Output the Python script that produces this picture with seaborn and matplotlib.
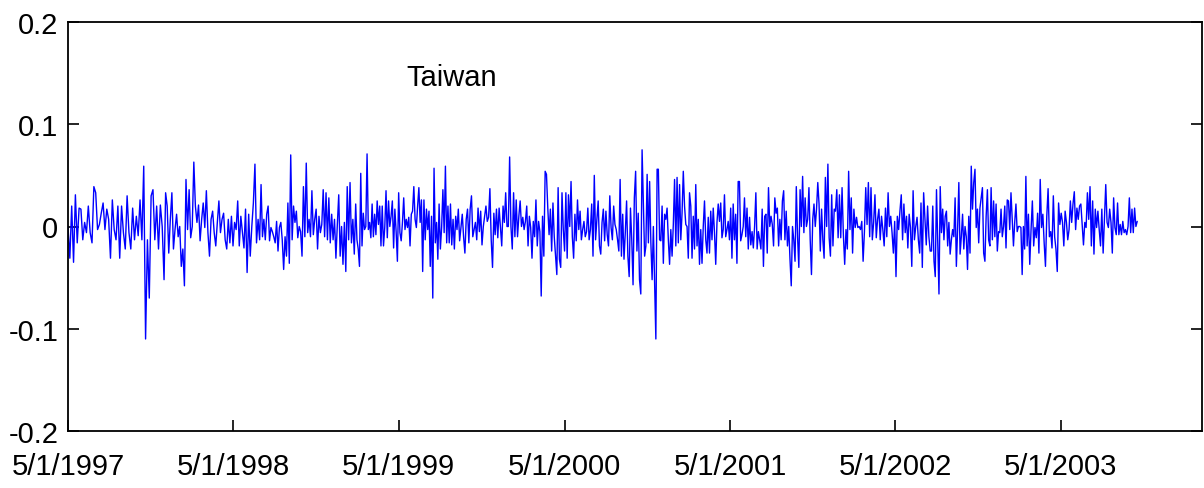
import numpy as np
import pandas as pd
import matplotlib
matplotlib.use("Agg")
import matplotlib.pyplot as plt
import seaborn as sns

# ---------------- data (daily returns, in units of 0.001) ----------------
segment_bounds = ["1997-05-01", "1997-11-29", "1998-06-28", "1999-01-26", "1999-08-26",
                  "2000-03-25", "2000-10-22", "2001-05-22", "2001-12-20", "2002-07-20",
                  "2003-02-16", "2003-10-17"]

seg01 = [0, -31, 20, -35, 31, -16, 18, 17, -13, 4, -6, 20, -6, -16, 39, 33, -3, 2, 13, 23, -3, 17, 7,
         -31, 26, -3, -13, 20, -31, 20, -6, -22, 30, -6, -22, 18, -13, 10, -9, 26, -13, 59, -110, -13,
         -70, 30, 36, -13, 20, -22, 21, 0]
seg02 = [-52, 33, 20, -26, 7, 33, -22, -3, 12, -10, 0, -39, -22, -58, 46, -3, 36, -11, 0, 63, 20, 4, 21,
         -14, 7, 23, -1, 35, -6, -29, 7, 15, -6, -19, 4, 25, -6, 7, 13, -13, -22, 7, -16, 10, -19, 4, -3,
         25, -19, 10, -6, -21, 17, -45, 12, -29, 0, 23, 61, -16, 7]
seg03 = [-13, 41, -10, 7, -13, 12, 20, -14, -1, -5, -10, -16, 5, -24, -1, 4, -13, -42, -10, -29, 23, -36,
         70, -13, 20, 4, 15, -11, 0, -5, -29, 39, -10, 62, -6, 7, -10, 35, -8, 7, 17, -22, 10, -6, 2, 36,
         -10, 33, -13, 28, -16, 12, -13, 7, -31, 2, 31, -29, 0, -37, 4, -44, 39, -13, 43, -16, 7, -27]
seg04 = [22, -13, -22, -39, 52, -19, 13, -3, 0, 71, -3, 4, -11, 22, -10, 12, -8, 25, 2, 20, -19, 20, -19,
         -1, 35, -11, 25, 0, 10, 25, -21, 17, -5, -34, 33, -6, -14, 4, 28, -3, 7, -1, 9, -19, 12, 15, 39,
         7, -1, 20, 38, 4, 26, -44, 26, -13, 17, -3, 15, -39, 10, -70, 57, -16, 4, -32, 22, -22, -1, 36,
         -6, 59, -16, 20, -16, 22]
seg05 = [-18, 7, -22, 10, -3, 17, -14, -1, 12, -10, -26, 7, 17, -16, 17, 30, -10, -3, 4, -13, 18, -5, 15,
         -18, 0, 10, 20, 5, 9, 37, -13, -40, 13, -8, 17, -11, 18, 0, -19, 20, 4, 33, 0, 0, 68, 0, -22, 33,
         -10, 26, -10, 10, 25, 0, 9, -3, 5, 20, -19, 10, -1, -31, 5, -10, 26, -19, 5, -5, -68, 10, -29,
         54, 51]
seg06 = [18, -8, 17, -24, 23, -10, -29, -47, 38, -32, -40, 33, -3, -24, 33, -31, 31, 0, 44, -10, -31, 12,
         -14, 26, -3, 15, -13, -3, 5, -10, -5, 18, -13, -3, 22, -29, 50, -13, 7, 25, -19, -27, 4, 17, -14,
         15, -8, -19, 30, -1, -13, 20, 2, -3, -13, -24, 46, -29, 12, -32, -6, 25, -29, -49, 18, -13, -57,
         28, 54, -24, 13, -52, -66, 75]
seg07 = [20, -29, -19, 51, -16, 44, -16, -52, 0, -55, -110, 56, 56, -13, -14, 20, -36, 12, 7, 18, -13,
         -37, -3, -29, 2, 46, -19, 48, -16, 41, -13, 13, 54, 20, 2, 0, -31, 33, 20, -31, 10, -22, 41, -19,
         7, -37, -3, -36, 0, 25, -13, -26, 9, -26, 15, -13, 18, -6, -37, 4, 22, 5, 23, -11, -3, 31, -10,
         -3, 5, -13, 18, -31, 22, -13, 12, -36, 44]
seg08 = [44, -14, -8, 0, 28, -10, 18, -22, 9, -18, -5, -21, 0, 33, -22, -5, -13, -22, 17, -39, 10, 12,
         -26, 38, 0, 10, 2, -19, 28, 13, 18, -19, 7, -13, 25, 35, -13, 15, -19, 0, -32, -58, 0, -13, -34,
         39, -10, -40, 36, 0, 49, -6, 28, 0, 7, 38, -13, -47, 7, 22, 0, 17, 43, 22, -24, 17, -13, -31, 48,
         0, 61, -11, -29, 31, -19, 17]
seg09 = [15, 36, -11, 31, -11, 38, -8, -37, -3, -22, 54, -3, 28, -26, 17, -1, 9, -1, 0, -3, 5, -34, -5,
         38, 2, 43, -10, 38, -13, 4, 31, -11, 7, 17, -13, 10, -3, -19, 18, -10, 33, 0, 10, -6, -26, 5, -49,
         10, -3, 15, 31, -13, 22, -6, 10, -21, 12, -1, -39, 35, -13, 0, 9, -13, -26, 23, -40, 33, 7, -18,
         20, -10, -24]
seg10 = [-24, 20, -34, -49, 36, -13, -66, 39, -6, 17, -13, 10, 15, -19, 4, -27, -13, -3, -10, 28, -39, -3,
         43, -27, -10, 12, -22, 0, -10, -42, 10, -26, 59, 17, 43, 56, -1, 17, -16, 18, 28, 38, -26, -34,
         10, 36, -13, -19, 38, -13, 25, -10, 22, -24, -5, -6, 17, -10, 0, 20, -21, 26, 25, -3, 33, 7, -19,
         4, 22, -5, 0, 0, -1, -47, 0, -22, 49]
seg11 = [-19, 12, -37, -3, 25, -19, -1, -11, 13, -26, 46, -1, 12, -16, -39, 10, 37, -10, -5, -21, 30, -10,
         -22, -44, 23, 2, 13, 4, -19, 15, 4, -13, -3, 25, 4, 22, 34, -3, 18, 7, 20, 22, 2, -18, 4, -1, 33,
         7, 39, -19, 25, -27, 17, -1, 15, -3, -19, 17, -26, 7, 41, 4, -1, 17, 4, -26, 28, -1, -8, 23, -8,
         2, -8, 5, -6, -3, -8, 0, 28, -6, 17, -6, 18, 0, 5]

series_label = "Taiwan"
tick_years = [1997, 1998, 1999, 2000, 2001, 2002, 2003]
y_ticks = [-0.2, -0.1, 0.0, 0.1, 0.2]
y_tick_labels = ["-0.2", "-0.1", "0", "0.1", "0.2"]
x_start = "1997-05-01"
x_end = "2004-03-08"

# ---------------- build table ----------------
segments = [seg01, seg02, seg03, seg04, seg05, seg06, seg07, seg08, seg09, seg10, seg11]
dates, vals = [], []
for i, seg in enumerate(segments):
    t0 = pd.Timestamp(segment_bounds[i])
    t1 = pd.Timestamp(segment_bounds[i + 1])
    last = i == len(segments) - 1
    step = (t1 - t0) / ((len(seg) - 1) if last else len(seg))
    for k, v in enumerate(seg):
        dates.append(t0 + k * step)
        vals.append(v / 1000.0)
df = pd.DataFrame({"date": dates, "ret": vals})

# ---------------- plot ----------------
sns.set_theme(style="white")
plt.rcParams["font.family"] = ["Liberation Sans", "DejaVu Sans"]

W, H = 1204, 489
fig = plt.figure(figsize=(W / 100, H / 100), dpi=100)
ax = fig.add_axes([68 / W, 1 - 432 / H, (1202 - 68) / W, (432 - 23) / H])

sns.lineplot(data=df, x="date", y="ret", ax=ax, color="#0000ff", linewidth=1.0,
             estimator=None, errorbar=None)

ax.set_xlim(pd.Timestamp(x_start), pd.Timestamp(x_end))
ax.set_ylim(-0.2, 0.2)
ax.set_xticks([pd.Timestamp(f"{y}-05-01") for y in tick_years])
ax.set_xticklabels([f"5/1/{y}" for y in tick_years])
ax.set_yticks(y_ticks)
ax.set_yticklabels(y_tick_labels)
ax.set_xlabel("")
ax.set_ylabel("")

for s in ax.spines.values():
    s.set_color("black")
    s.set_linewidth(1.3)

ax.tick_params(axis="both", direction="in", length=8, width=1.2, colors="black",
               labelsize=21, left=True, right=True, bottom=True, top=False)
ax.tick_params(axis="x", pad=15)
ax.tick_params(axis="y", pad=7)

ax.text(0.338, 0.866, series_label, transform=ax.transAxes, ha="center", va="center",
        fontsize=21, color="black")

fig.savefig("out.png", dpi=100)
